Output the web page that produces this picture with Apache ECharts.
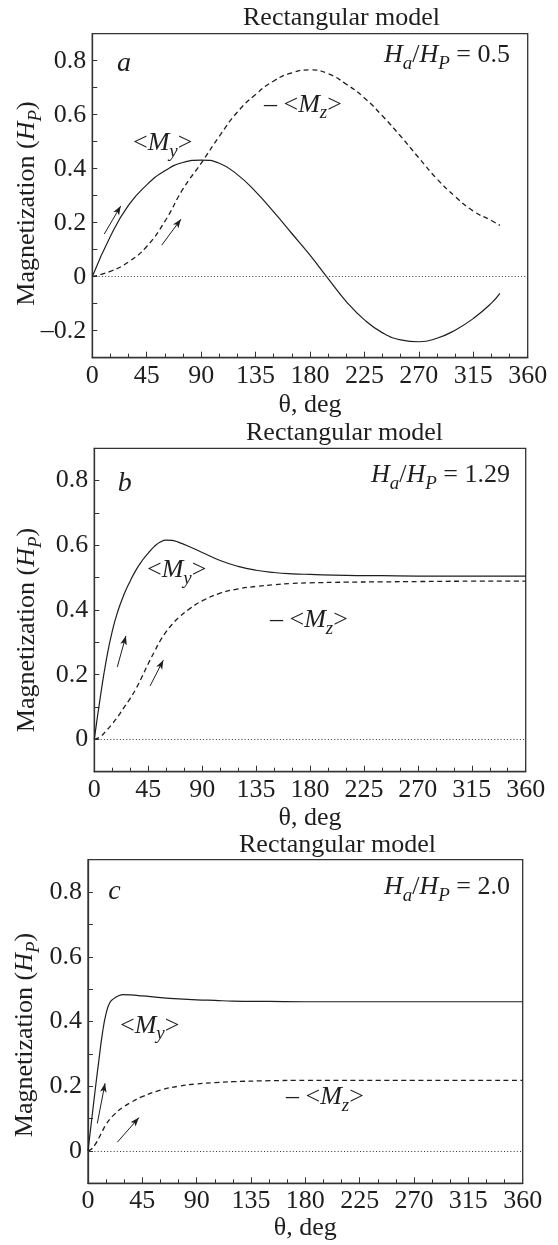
<!DOCTYPE html>
<html>
<head>
<meta charset="utf-8">
<script src="https://cdn.jsdelivr.net/npm/echarts@6/dist/echarts.min.js"></script>
<style>
html,body{margin:0;padding:0;background:#fff;}
#chart{width:558px;height:1245px;}
</style>
</head>
<body>
<div id="chart"></div>
<script>
// ---------- DATA ----------
const xTickLabels = ['0','45','90','135','180','225','270','315','360'];

// Panel a  (Ha/HP = 0.5)
const thetaA = [0,15,30,45,60,75,90,105,120,135,150,165,180,195,210,225,240,255,270,285,300,315,330,337];
const myA    = [0,0.15,0.265,0.34,0.392,0.423,0.432,0.42,0.378,0.315,0.24,0.16,0.08,-0.007,-0.092,-0.16,-0.208,-0.234,-0.241,-0.228,-0.198,-0.155,-0.098,-0.062];
const mzA    = [0,0.02,0.055,0.112,0.205,0.325,0.42,0.52,0.61,0.675,0.725,0.755,0.766,0.752,0.713,0.662,0.595,0.52,0.44,0.362,0.297,0.243,0.208,0.19];
const arrowsA = [[9.9,0.158,23.5,0.262],[57.4,0.117,73.3,0.213]];

// Panel b  (Ha/HP = 1.29)
const thetaB = [0,5,10,15,20,25,30,35,40,45,50,55,60,65,70,80,90,105,120,135,150,165,180,210,240,270,315,360];
const myB    = [0,0.13,0.245,0.335,0.4,0.45,0.49,0.525,0.553,0.576,0.596,0.61,0.616,0.615,0.61,0.595,0.578,0.553,0.535,0.523,0.516,0.512,0.51,0.507,0.506,0.505,0.505,0.505];
const mzB    = [0,0.008,0.027,0.048,0.072,0.1,0.127,0.158,0.195,0.234,0.27,0.305,0.333,0.356,0.375,0.405,0.428,0.452,0.465,0.473,0.478,0.482,0.484,0.486,0.487,0.488,0.489,0.489];
const arrowsB = [[19.2,0.224,26.4,0.32],[46.5,0.165,57.6,0.245]];

// Panel c  (Ha/HP = 2.0)
const thetaC = [0,3,6,9,12,15,18,21,25,29,35,45,60,75,90,105,120,150,180,270,360];
const myC    = [0,0.095,0.19,0.28,0.365,0.425,0.458,0.47,0.479,0.483,0.482,0.479,0.474,0.47,0.467,0.465,0.463,0.462,0.461,0.461,0.461];
const mzC    = [0,0.006,0.02,0.04,0.062,0.082,0.098,0.11,0.124,0.135,0.149,0.168,0.188,0.2,0.207,0.211,0.214,0.217,0.218,0.218,0.218];
const arrowsC = [[7.7,0.085,14.1,0.209],[24.3,0.027,42.2,0.103]];

const yRanges = [[-0.3,0.9],[-0.1,0.9],[-0.1,0.9]];
const ratioLabels = ['0.5','1.29','2.0'];
const panelLetters = ['a','b','c'];

// ---------- LAYOUT ----------
const FONT = 'Liberation Serif, Times New Roman, serif';
const INK = '#1e1e1e';
const FS = 26;
const grids = [
  {left:92.3, top:33.7, width:435.4, height:324},
  {left:94.3, top:448.3, width:431.4, height:323.4},
  {left:88, top:859.7, width:434.7, height:323.6}
];
const textPos = [
  {title:[243,18], letter:[117,63.5], ratio:[510,55], my:[133,143], mz:[264,104.7], yname:[27,203.5], xname:[310,405]},
  {title:[246,433], letter:[117.7,484], ratio:[510,475], my:[147,570], mz:[270,620], yname:[27,630], xname:[310,818]},
  {title:[239,845], letter:[108.3,891.5], ratio:[510,887], my:[120,1025.7], mz:[286,1097], yname:[25,1035], xname:[305.3,1228]}
];

const rich = {
  n:{fontFamily:FONT, fontSize:FS, lineHeight:36, fill:INK},
  i:{fontFamily:FONT, fontSize:FS, lineHeight:36, fontStyle:'italic', fill:INK},
  s:{fontFamily:FONT, fontSize:19, lineHeight:23, fontStyle:'italic', verticalAlign:'bottom', fill:INK}
};

function pairs(xs, ys){ return xs.map((x,k)=>[x, ys[k]]); }

function yFmt(v){
  const k = Math.round(v*10);
  if (k % 2 !== 0 || k < -2 || k > 8) return '';
  if (k === 0) return '0';
  return (k < 0 ? '\u2013' : '') + (Math.abs(k)/10).toFixed(1);
}

function arrowItems(list){
  return list.map(a => [
    {coord:[a[0],a[1]], symbol:'none', lineStyle:{type:'solid', width:1, color:INK}},
    {coord:[a[2],a[3]], symbol:'arrow', symbolSize:[5,9], lineStyle:{type:'solid', width:1, color:INK}}
  ]);
}

const panels = [
  {theta:thetaA, my:myA, mz:mzA, arrows:arrowsA},
  {theta:thetaB, my:myB, mz:mzB, arrows:arrowsB},
  {theta:thetaC, my:myC, mz:mzC, arrows:arrowsC}
];

const option = {
  animation:false,
  backgroundColor:'#fff',
  grid: grids.map(g => Object.assign({show:true, borderColor:'#333', borderWidth:1.3, backgroundColor:'transparent'}, g)),
  xAxis: panels.map((p,i) => ({
    type:'value', gridIndex:i, min:0, max:360, interval:45,
    axisLine:{show:true, onZero:false, lineStyle:{color:'#333', width:1.3}},
    axisTick:{show:true, inside:true, length:6, lineStyle:{color:'#333'}},
    minorTick:{show:true, splitNumber:3, length:4, lineStyle:{color:'#333'}},
    splitLine:{show:false},
    axisLabel:{fontFamily:FONT, fontSize:FS, color:INK, margin:5,
      formatter:(v)=> xTickLabels[Math.round(v/45)] || ''}
  })),
  yAxis: panels.map((p,i) => ({
    type:'value', gridIndex:i, min:yRanges[i][0], max:yRanges[i][1], interval:0.1,
    axisLine:{show:true, onZero:false, lineStyle:{color:'#333', width:1.3}},
    axisTick:{show:true, inside:true, length:5, lineStyle:{color:'#333'}},
    splitLine:{show:false},
    axisLabel:{fontFamily:FONT, fontSize:FS, color:INK, margin:6, formatter:yFmt}
  })),
  series: []
};

panels.forEach((p,i) => {
  option.series.push({
    type:'line', xAxisIndex:i, yAxisIndex:i, data:pairs(p.theta,p.my),
    showSymbol:false, smooth:0.5,
    lineStyle:{color:INK, width:1.2},
    markLine:{
      silent:true, symbol:'none', label:{show:false},
      lineStyle:{type:[1,2.2], width:1, color:'#333'},
      data:[{yAxis:0}].concat(arrowItems(p.arrows))
    }
  });
  option.series.push({
    type:'line', xAxisIndex:i, yAxisIndex:i, data:pairs(p.theta,p.mz),
    showSymbol:false, smooth:0.5,
    lineStyle:{color:INK, width:1.3, type:[5,3.5]}
  });
});

const graphics = [];
textPos.forEach((t,i) => {
  graphics.push({type:'text', x:t.title[0], y:t.title[1],
    style:{text:'Rectangular model', fontFamily:FONT, fontSize:FS, fill:INK, align:'left', verticalAlign:'middle'}});
  graphics.push({type:'text', x:t.letter[0], y:t.letter[1],
    style:{text:panelLetters[i], fontFamily:FONT, fontSize:28, fontStyle:'italic', fill:INK, align:'left', verticalAlign:'middle'}});
  graphics.push({type:'text', x:t.ratio[0], y:t.ratio[1],
    style:{text:'{i|H}{s|a}{n|/}{i|H}{s|P}{n| = '+ratioLabels[i]+'}', rich:rich, align:'right', verticalAlign:'middle'}});
  graphics.push({type:'text', x:t.my[0], y:t.my[1],
    style:{text:'{n|<}{i|M}{s|y}{n|>}', rich:rich, align:'left', verticalAlign:'middle'}});
  graphics.push({type:'text', x:t.mz[0], y:t.mz[1],
    style:{text:'{n|\u2013 <}{i|M}{s|z}{n|>}', rich:rich, align:'left', verticalAlign:'middle'}});
  graphics.push({type:'text', x:t.yname[0], y:t.yname[1], rotation:Math.PI/2,
    style:{text:'{n|Magnetization (}{i|H}{s|P}{n|)}', rich:rich, align:'center', verticalAlign:'middle'}});
  graphics.push({type:'text', x:t.xname[0], y:t.xname[1],
    style:{text:'\u03b8, deg', fontFamily:FONT, fontSize:FS, fill:INK, align:'center', verticalAlign:'middle'}});
});
option.graphic = graphics;

const chart = echarts.init(document.getElementById('chart'), null, {renderer:'canvas'});
chart.setOption(option);
</script>
</body>
</html>
